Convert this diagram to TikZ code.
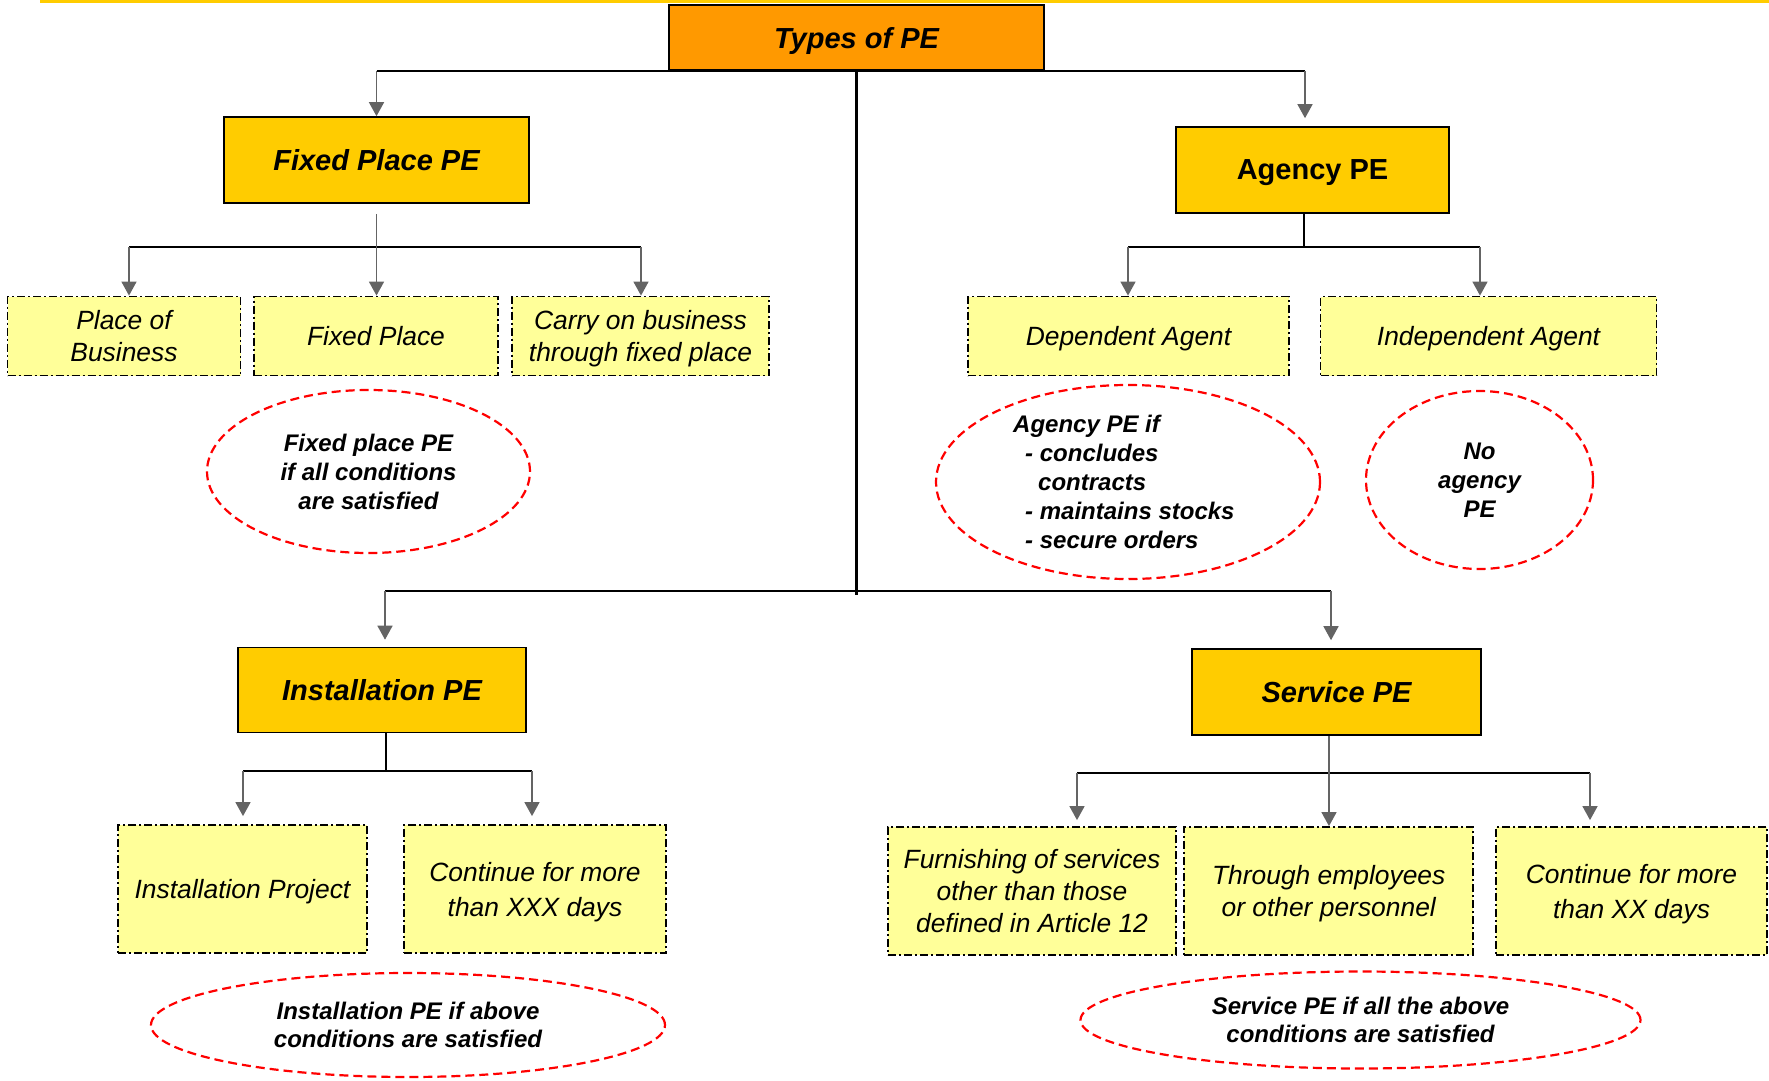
\documentclass[tikz,border=0pt]{standalone}
\usepackage{fontspec}
\setmainfont{Liberation Sans}
\usetikzlibrary{arrows.meta,calc,shapes.geometric}
\definecolor{pebox}{HTML}{FFCC00}
\definecolor{petop}{HTML}{FF9900}
\definecolor{subfill}{HTML}{FFFF99}
\definecolor{arrgray}{HTML}{646464}
\definecolor{ellred}{HTML}{FF0000}
\begin{document}
\begin{tikzpicture}[x=1pt,y=-1pt,
  headbox/.style={rectangle,draw=black,line width=1.6pt,inner sep=0pt,fill=pebox,text depth=0pt,
    font=\fontsize{29}{35}\selectfont\bfseries\itshape},
  subbox/.style={rectangle,draw=black,line width=1.8pt,text depth=0pt,
    dash pattern=on 8pt off 3pt on 2pt off 3pt,fill=subfill,inner sep=0pt,align=center,
    font=\fontsize{26.4}{31.6}\selectfont\itshape},
  note/.style={ellipse,draw=ellred,line width=2.2pt,dash pattern=on 9pt off 5pt,
    inner sep=0pt,align=center,font=\fontsize{24}{29}\selectfont\bfseries\itshape},
  notetext/.style={inner sep=0pt,align=left,font=\fontsize{24}{29}\selectfont\bfseries\itshape},
  bus/.style={line width=2.8pt,black},
  arr/.style={arrgray,line width=1.5pt,-{Triangle[width=15pt,length=14pt]}}
]
\useasboundingbox (0,0) rectangle (1769,1081);
\draw[line width=3pt,color=pebox] (40,1.5) -- (1769,1.5);

% main boxes
\node[headbox,fill=petop,minimum width=375pt,minimum height=65pt] (types) at (856.5,37.5) {Types of PE};
\node[headbox,minimum width=305pt,minimum height=86pt] (fixed) at (376.5,160) {Fixed Place PE};
\node[headbox,minimum width=273pt,minimum height=86pt,font=\fontsize{29}{35}\selectfont\bfseries] (agency) at (1312.5,170) {Agency PE};
\node[headbox,minimum width=288pt,minimum height=85pt] (install) at (382,690) {Installation PE};
\node[headbox,minimum width=289pt,minimum height=86pt] (service) at (1336.5,692) {Service PE};

% sub boxes
\node[subbox,minimum width=233pt,minimum height=79pt] (pob) at (124,336) {Place of\\Business};
\node[subbox,minimum width=244pt,minimum height=79pt] (fplace) at (376,336) {Fixed Place};
\node[subbox,minimum width=257pt,minimum height=79pt] (carry) at (640.5,336) {Carry on business\\through fixed place};
\node[subbox,minimum width=321pt,minimum height=79pt] (depag) at (1128.5,336) {Dependent Agent};
\node[subbox,minimum width=336pt,minimum height=79pt] (indag) at (1488.5,336) {Independent Agent};
\node[subbox,minimum width=249pt,minimum height=128pt] (iproj) at (242.5,889) {Installation Project};
\node[subbox,minimum width=262pt,minimum height=128pt,font=\fontsize{26.4}{35}\selectfont\itshape] (ixxx) at (535,889) {Continue for more\\than XXX days};
\node[subbox,minimum width=288pt,minimum height=128pt] (furn) at (1032,891) {Furnishing of services\\other than those\\defined in Article 12};
\node[subbox,minimum width=289pt,minimum height=128pt] (thru) at (1328.7,891) {Through employees\\or other personnel};
\node[subbox,minimum width=271pt,minimum height=128pt,font=\fontsize{26.4}{35}\selectfont\itshape] (sxx) at (1631.5,891) {Continue for more\\than XX days};

% notes
\node[note,minimum width=323pt,minimum height=163pt] (fixnote) at (368.5,471.5) {Fixed place PE\\if all conditions\\are satisfied};
\node[note,minimum width=384pt,minimum height=194pt] (agnote) at (1128,482) {};
\node[notetext,anchor=west] (agtext) at (1013,482) {Agency PE if\\\hspace*{12pt}- concludes\\\hspace*{25pt}contracts\\\hspace*{12pt}- maintains stocks\\\hspace*{12pt}- secure orders};
\node[note,minimum width=227pt,minimum height=178pt] (noag) at (1479.5,480) {No\\agency\\PE};
\node[note,minimum width=514pt,minimum height=104pt,font=\fontsize{24}{28}\selectfont\bfseries\itshape] (instnote) at (408,1025) {Installation PE if above\\conditions are satisfied};
\node[note,minimum width=560pt,minimum height=97pt,font=\fontsize{24}{28}\selectfont\bfseries\itshape] (servnote) at (1360.5,1020) {Service PE if all the above\\conditions are satisfied};

% top level connectors
\coordinate (tl) at (376.5,71);
\coordinate (tr) at (1305,71);
\coordinate (bl) at (385,591);
\coordinate (br) at (1331,591);
\coordinate (tend) at (856.5,595);
\draw[bus] (tl) -- (tr);
\draw[bus] (types.south) -- (tend);
\draw[bus] (bl) -- (br);
\draw[arr] (tl) -- (tl |- fixed.north);
\draw[arr] (tr) -- ($(tr |- agency.north)+(0,-8)$);
\draw[arr] (bl) -- ($(bl |- install.north)+(0,-7)$);
\draw[arr] (br) -- ($(br |- service.north)+(0,-8)$);

% fixed place subtree
\coordinate (fs) at ($(fixed.south)+(0,10)$);
\coordinate (fl) at (129,247);
\coordinate (fr) at (641,247);
\draw[bus] (fl) -- (fr);
\draw[arr] (fs) -- (fs |- fplace.north);
\draw[arr] (fl) -- (fl |- pob.north);
\draw[arr] (fr) -- (fr |- carry.north);

% agency subtree
\coordinate (al) at (1128,247);
\coordinate (ar) at (1480,247);
\coordinate (am) at (1304,247);
\draw[bus] (am |- agency.south) -- (am);
\draw[bus] (al) -- (ar);
\draw[arr] (al) -- (al |- depag.north);
\draw[arr] (ar) -- (ar |- indag.north);

% installation subtree
\coordinate (il) at (243,771);
\coordinate (ir) at (532,771);
\coordinate (im) at (386,771);
\draw[bus] (im |- install.south) -- (im);
\draw[bus] (il) -- (ir);
\draw[arr] (il) -- ($(il |- iproj.north)+(0,-8)$);
\draw[arr] (ir) -- ($(ir |- ixxx.north)+(0,-8)$);

% service subtree
\coordinate (sl) at (1077,773);
\coordinate (sr) at (1590,773);
\coordinate (sm) at (1329,773);
\draw[bus] (sl) -- (sr);
\draw[arr] (sm |- service.south) -- (sm |- thru.north);
\draw[arr] (sl) -- ($(sl |- furn.north)+(0,-6)$);
\draw[arr] (sr) -- ($(sr |- sxx.north)+(0,-6)$);
\end{tikzpicture}
\end{document}
